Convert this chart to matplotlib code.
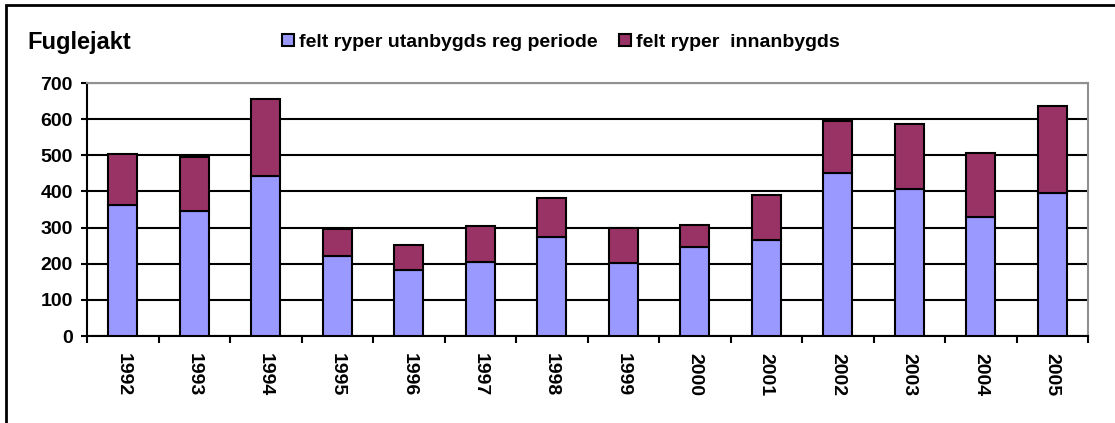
import matplotlib
matplotlib.use("Agg")
import matplotlib.pyplot as plt
from matplotlib.patches import Rectangle
import numpy as np

years = ["1992", "1993", "1994", "1995", "1996", "1997", "1998",
         "1999", "2000", "2001", "2002", "2003", "2004", "2005"]
utanbygds = [363, 346, 444, 222, 182, 205, 275, 201, 245, 266, 451, 407, 330, 396]
totals = [503, 495, 655, 297, 251, 305, 383, 300, 308, 390, 595, 587, 507, 635]
innanbygds = [t - u for t, u in zip(totals, utanbygds)]

labels = ["felt ryper utanbygds reg periode", "felt ryper  innanbygds"]
colors = ["#9999FF", "#993366"]

plt.rcParams['font.family'] = ['Liberation Sans', 'DejaVu Sans']
W, H = 1115, 423
fig = plt.figure(figsize=(W / 100, H / 100), dpi=100)


def fx(px):
    return px / W


def fy(py):
    return 1 - py / H


# outer frame (right and bottom edges fall outside the image)
fig.patches.append(Rectangle((fx(6), fy(440)), fx(1200), (440 - 5) / H, transform=fig.transFigure,
                             fill=False, edgecolor='black', linewidth=2))

left, right, top, bottom = 87, 1088, 83, 336
ax = fig.add_axes([fx(left), fy(bottom), (right - left) / W, (bottom - top) / H])

x = np.arange(len(years))
ax.bar(x, utanbygds, width=0.4, color=colors[0], edgecolor='black', linewidth=1.5, zorder=3)
ax.bar(x, innanbygds, bottom=utanbygds, width=0.4, color=colors[1], edgecolor='black',
       linewidth=1.5, zorder=3)

ax.set_xlim(-0.5, len(years) - 0.5)
ax.set_ylim(0, 700)
ax.set_yticks(range(0, 701, 100))
ax.yaxis.grid(True, color='black', linewidth=1.5, zorder=1)
ax.set_axisbelow(True)

ax.set_xticks(x)
ax.set_xticklabels(years, rotation=-90, fontsize=14, fontweight='bold', va='top')
ax.tick_params(axis='x', length=0, pad=12)
ax.set_xticks(np.arange(-0.5, len(years)), minor=True)
ax.tick_params(axis='x', which='minor', length=5, width=1.5, direction='out')
ax.tick_params(axis='y', length=4.3, width=1.5, direction='out', labelsize=14, pad=6)
for lab in ax.get_yticklabels():
    lab.set_fontweight('bold')

for s in ['left', 'bottom']:
    ax.spines[s].set_color('black')
    ax.spines[s].set_linewidth(1.5)
for s in ['top', 'right']:
    ax.spines[s].set_color('#909090')
    ax.spines[s].set_linewidth(1.5)

fig.text(fx(27), fy(49), "Fuglejakt", fontsize=17, fontweight='bold', va='baseline', ha='left')

# legend
leg_x = [282, 619]
for lx, c, lab in zip(leg_x, colors, labels):
    fig.patches.append(Rectangle((fx(lx), fy(46)), 12 / W, 12 / H, transform=fig.transFigure,
                                 facecolor=c, edgecolor='black', linewidth=1.5))
    fig.text(fx(lx + 17), fy(47), lab, fontsize=14, fontweight='bold', va='baseline', ha='left')

fig.savefig("out.png", dpi=100)
